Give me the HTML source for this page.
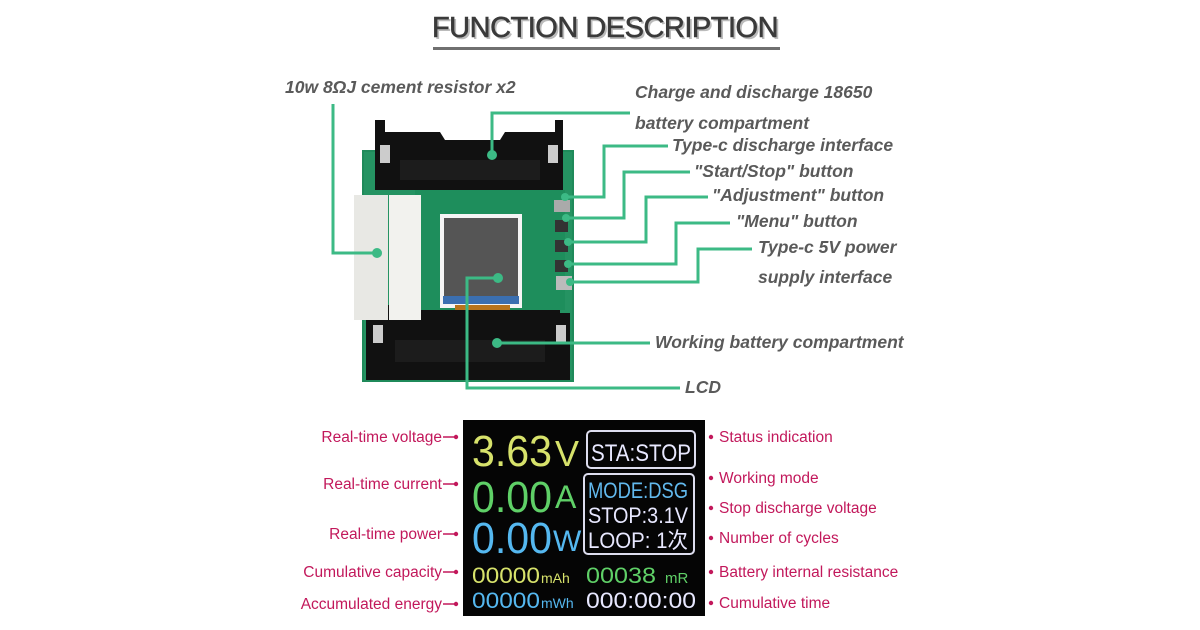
<!DOCTYPE html>
<html><head><meta charset="utf-8"><style>
html,body{margin:0;padding:0;background:#fff;}
svg{display:block;}
.lb{font-family:"Liberation Sans",sans-serif;font-style:italic;font-weight:bold;font-size:17.5px;fill:#5a5a5a;}
.pk{font-family:"Liberation Sans",sans-serif;font-size:15.5px;fill:#c2185b;}
.g{stroke:#3cba85;stroke-width:3;fill:none;}
.lcd{font-family:"Liberation Sans","Noto Sans CJK SC",sans-serif;}
</style></head><body>
<svg width="1200" height="630" viewBox="0 0 1200 630" xmlns="http://www.w3.org/2000/svg">
<text x="607" y="39" text-anchor="middle" font-family="Liberation Sans,sans-serif" font-size="29" fill="#bbb" letter-spacing="-0.5">FUNCTION DESCRIPTION</text>
<text x="605" y="37" text-anchor="middle" font-family="Liberation Sans,sans-serif" font-size="29" fill="#3a3a3a" stroke="#3a3a3a" stroke-width="0.6" letter-spacing="-0.5">FUNCTION DESCRIPTION</text>
<rect x="433" y="47" width="347" height="3" fill="#707070"/>

<rect x="362" y="150" width="212" height="232" fill="#1f8a5a"/>
<rect x="364" y="152" width="208" height="228" fill="#2a9a68" opacity="0.6"/>
<path d="M375 120 L385 120 L385 132 L440 132 L445 140 L500 140 L505 132 L555 132 L555 120 L563 120 L563 190 L375 190 Z" fill="#111"/>
<rect x="380" y="145" width="10" height="18" fill="#ccc"/>
<rect x="548" y="145" width="10" height="18" fill="#ccc"/>
<rect x="400" y="160" width="140" height="20" fill="#1c1c1c"/>
<path d="M366 305 L560 305 L560 313 L570 313 L570 380 L366 380 Z" fill="#111"/>
<rect x="373" y="325" width="10" height="18" fill="#ccc"/>
<rect x="556" y="325" width="10" height="18" fill="#ccc"/>
<rect x="395" y="340" width="150" height="22" fill="#1c1c1c"/>
<rect x="415" y="190" width="150" height="120" fill="#1e8e5c"/>
<rect x="354" y="195" width="34" height="125" fill="#e8e8e4"/>
<rect x="389" y="195" width="32" height="125" fill="#f2f2ee"/>
<rect x="440" y="214" width="82" height="94" fill="#f5f5f5"/>
<rect x="444" y="218" width="74" height="78" fill="#555"/>
<rect x="443" y="296" width="76" height="8" fill="#3b6fb0"/>
<rect x="455" y="305" width="55" height="5" fill="#b8741c"/>
<rect x="554" y="200" width="16" height="12" fill="#aaa"/>
<rect x="555" y="220" width="13" height="12" fill="#333"/>
<rect x="555" y="240" width="13" height="12" fill="#333"/>
<rect x="555" y="260" width="13" height="12" fill="#333"/>
<rect x="556" y="276" width="16" height="14" fill="#bbb"/>

<g class="g">
<polyline points="333,104 333,253 377,253"/>
<polyline points="630,113 492,113 492,155"/>
<polyline points="668,146 604,146 604,197 565,197"/>
<polyline points="690,172 624,172 624,218 566,218"/>
<polyline points="708,197 646,197 646,242 568,242"/>
<polyline points="730,223 676,223 676,264 568,264"/>
<polyline points="752,249 698,249 698,282 570,282"/>
<polyline points="650,343 497,343"/>
<polyline points="680,388 467,388 467,278 498,278"/>
</g>
<g fill="#3cba85">
<circle cx="377" cy="253" r="5"/><circle cx="492" cy="155" r="5"/><circle cx="565" cy="197" r="4"/>
<circle cx="566" cy="218" r="4"/><circle cx="568" cy="242" r="4"/><circle cx="568" cy="264" r="4"/>
<circle cx="570" cy="282" r="4"/><circle cx="497" cy="343" r="5"/><circle cx="498" cy="278" r="5"/>
</g>

<text class="lb" x="285" y="93">10w 8ΩJ cement resistor x2</text>
<text class="lb" x="635" y="98">Charge and discharge 18650</text>
<text class="lb" x="635" y="129">battery compartment</text>
<text class="lb" x="672" y="151">Type-c discharge interface</text>
<text class="lb" x="694" y="177">"Start/Stop" button</text>
<text class="lb" x="712" y="201">"Adjustment" button</text>
<text class="lb" x="736" y="227">"Menu" button</text>
<text class="lb" x="758" y="253">Type-c 5V power</text>
<text class="lb" x="758" y="283">supply interface</text>
<text class="lb" x="655" y="348">Working battery compartment</text>
<text class="lb" x="685" y="393">LCD</text>

<rect x="463" y="420" width="242" height="196" fill="#050505"/>
<g class="lcd">
<text x="472" y="466" font-size="44" fill="#d7e26b" textLength="80" lengthAdjust="spacingAndGlyphs">3.63</text>
<text x="555" y="466" font-size="36" fill="#d7e26b">V</text>
<text x="472" y="512" font-size="44" fill="#5fd067" textLength="80" lengthAdjust="spacingAndGlyphs">0.00</text>
<text x="555" y="508" font-size="32" fill="#5fd067">A</text>
<text x="472" y="553" font-size="44" fill="#55b8f0" textLength="80" lengthAdjust="spacingAndGlyphs">0.00</text>
<text x="553" y="551" font-size="30" fill="#55b8f0">W</text>
<rect x="587" y="431" width="108" height="37" rx="4" fill="none" stroke="#dde" stroke-width="2"/>
<text x="591" y="461" font-size="24" fill="#e8e8ff" textLength="100" lengthAdjust="spacingAndGlyphs">STA:STOP</text>
<rect x="584" y="474" width="110" height="80" rx="4" fill="none" stroke="#dde" stroke-width="2"/>
<text x="588" y="498" font-size="22" fill="#62b9ee" textLength="100" lengthAdjust="spacingAndGlyphs">MODE:DSG</text>
<text x="588" y="523" font-size="22" fill="#e8e8ff" textLength="100" lengthAdjust="spacingAndGlyphs">STOP:3.1V</text>
<text x="588" y="548" font-size="22" fill="#e8e8ff" textLength="100" lengthAdjust="spacingAndGlyphs">LOOP: 1次</text>
<text x="472" y="583" font-size="22" fill="#d7e26b" textLength="68" lengthAdjust="spacingAndGlyphs">00000</text>
<text x="541" y="583" font-size="14" fill="#d7e26b">mAh</text>
<text x="586" y="583" font-size="22" fill="#5fd067" textLength="70" lengthAdjust="spacingAndGlyphs">00038</text>
<text x="665" y="583" font-size="15" fill="#5fd067">mR</text>
<text x="472" y="608" font-size="22" fill="#55b8f0" textLength="68" lengthAdjust="spacingAndGlyphs">00000</text>
<text x="541" y="608" font-size="14" fill="#55b8f0">mWh</text>
<text x="586" y="608" font-size="22" fill="#e8e8ff" textLength="110" lengthAdjust="spacingAndGlyphs">000:00:00</text>
</g>

<g class="pk">
<text x="442" y="442" text-anchor="end">Real-time voltage</text>
<text x="442" y="489" text-anchor="end">Real-time current</text>
<text x="442" y="539" text-anchor="end">Real-time power</text>
<text x="442" y="577" text-anchor="end">Cumulative capacity</text>
<text x="442" y="609" text-anchor="end">Accumulated energy</text>
<text x="719" y="442">Status indication</text>
<text x="719" y="483">Working mode</text>
<text x="719" y="513">Stop discharge voltage</text>
<text x="719" y="543">Number of cycles</text>
<text x="719" y="577">Battery internal resistance</text>
<text x="719" y="608">Cumulative time</text>
</g>
<g stroke="#c2185b" stroke-width="1.5">
<line x1="443" y1="437" x2="456" y2="437"/><line x1="443" y1="484" x2="456" y2="484"/>
<line x1="443" y1="534" x2="456" y2="534"/><line x1="443" y1="572" x2="456" y2="572"/>
<line x1="443" y1="604" x2="456" y2="604"/>
</g>
<g fill="#c2185b">
<circle cx="456" cy="437" r="2.2"/><circle cx="456" cy="484" r="2.2"/><circle cx="456" cy="534" r="2.2"/>
<circle cx="456" cy="572" r="2.2"/><circle cx="456" cy="604" r="2.2"/>
<circle cx="711" cy="437" r="2.2"/><circle cx="711" cy="478" r="2.2"/><circle cx="711" cy="508" r="2.2"/>
<circle cx="711" cy="538" r="2.2"/><circle cx="711" cy="572" r="2.2"/><circle cx="711" cy="603" r="2.2"/>
</g>
</svg>
</body></html>
